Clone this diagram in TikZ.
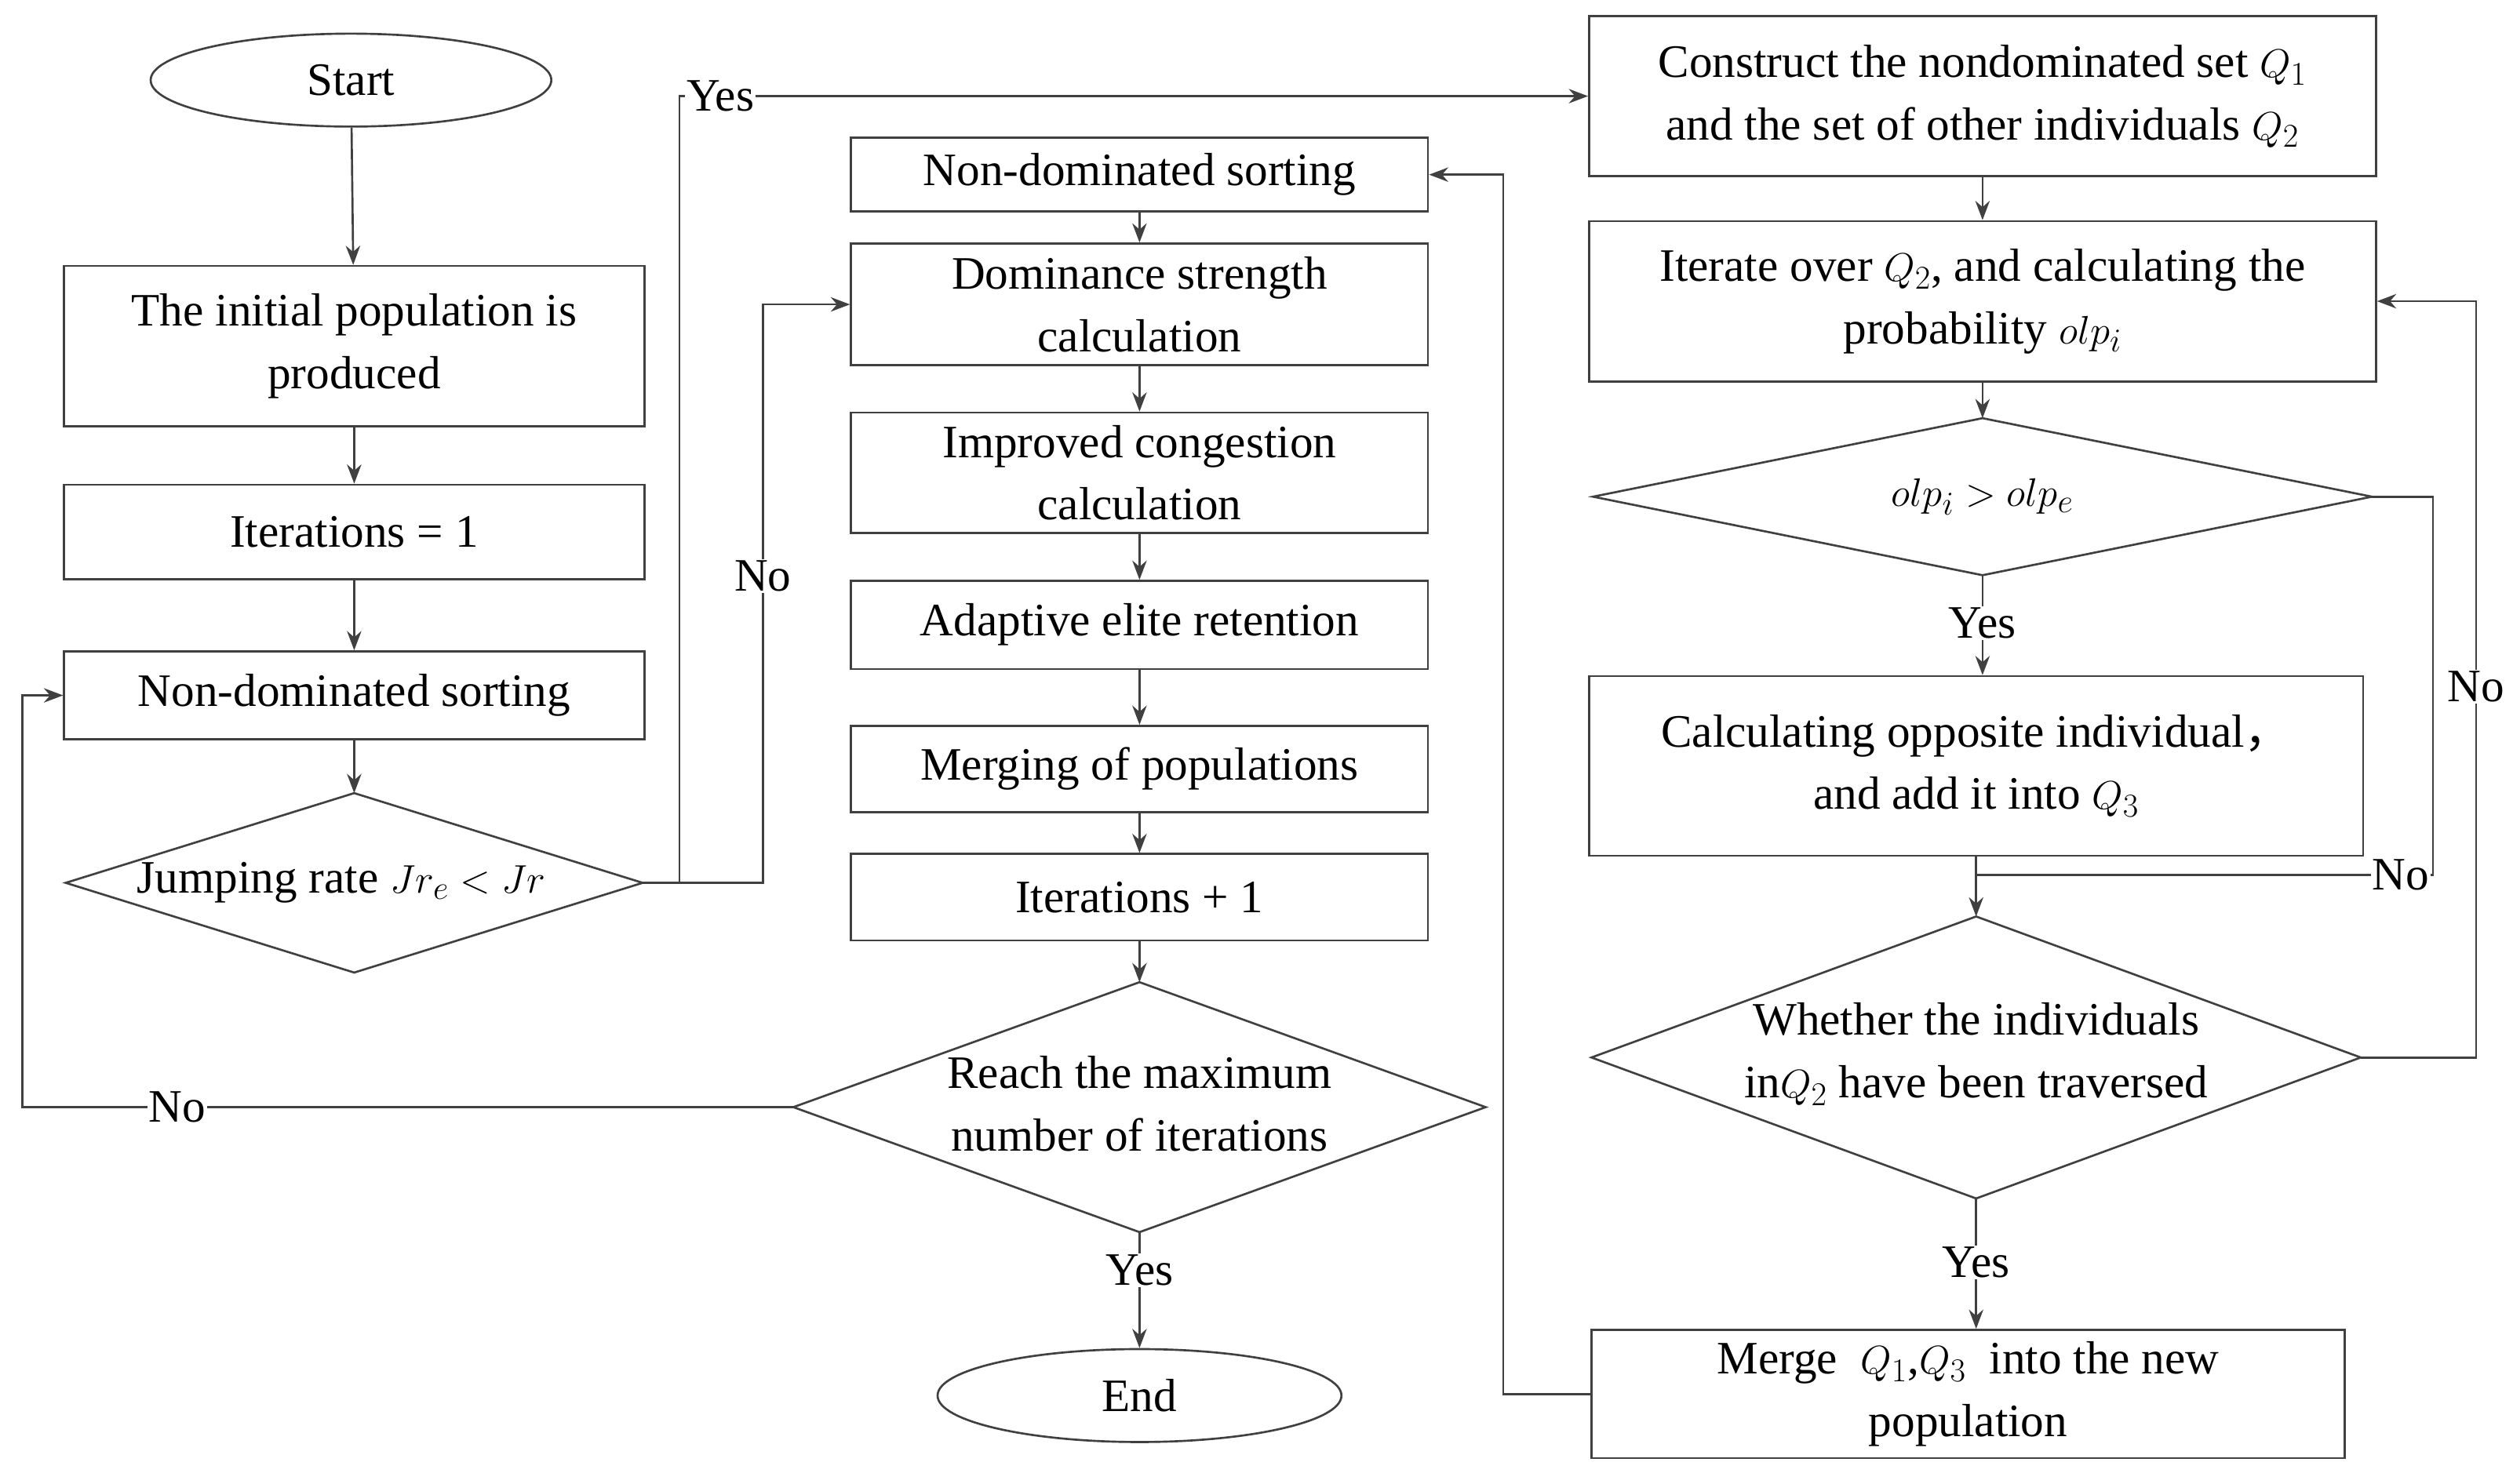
\documentclass[tikz,border=0pt]{standalone}
\usepackage{fontspec}
\setmainfont{Liberation Serif}
\newfontfamily\cjk{Noto Sans CJK SC}
\usetikzlibrary{arrows.meta,shapes.geometric}
\newcommand{\mydia}[5]{%
  \draw[ln] (#2-#4/2,#3) coordinate (#1-l) -- (#2,#3-#5/2) coordinate (#1-t) -- (#2+#4/2,#3) coordinate (#1-r) -- (#2,#3+#5/2) coordinate (#1-b) -- cycle;}
\begin{document}
\begin{tikzpicture}[x=1pt,y=-1pt,
  ln/.style={line width=1.3pt,draw=black!75},
  box/.style={ln,rectangle,inner sep=0pt,align=center,font=\fontsize{29}{39}\selectfont},
  txt/.style={align=center,font=\fontsize{29}{39}\selectfont,inner sep=1pt},
  lab/.style={fill=white,font=\fontsize{29}{32}\selectfont,inner sep=1pt},
  arr/.style={ln,-{Stealth[length=12pt,width=9pt]}}]
\path[use as bounding box] (0,0) rectangle (1568,926);
% left column
\node[box,ellipse,minimum width=250pt,minimum height=58pt] (start) at (219,50) {Start};
\node[box,minimum width=362pt,minimum height=100pt] (init) at (221,216) {The initial population is\\produced};
\node[box,minimum width=362pt,minimum height=59pt] (it1) at (221,332) {Iterations = 1};
\node[box,minimum width=362pt,minimum height=55pt] (nds1) at (221,434) {Non-dominated sorting};
\mydia{jr}{221}{551}{360}{112}
\node[txt] (jrt) at (213,551) {Jumping rate $Jr_e < Jr$};
% middle column
\node[box,minimum width=360pt,minimum height=46pt] (nds2) at (711,109) {Non-dominated sorting};
\node[box,minimum width=360pt,minimum height=76pt] (dom) at (711,190) {Dominance strength\\calculation};
\node[box,minimum width=360pt,minimum height=75pt] (imp) at (711,295) {Improved congestion\\calculation};
\node[box,minimum width=360pt,minimum height=55pt] (ada) at (711,390) {Adaptive elite retention};
\node[box,minimum width=360pt,minimum height=54pt] (mer) at (711,480) {Merging of populations};
\node[box,minimum width=360pt,minimum height=54pt] (itp) at (711,560) {Iterations + 1};
\mydia{rm}{711}{691}{432}{156}
\node[txt] (rmt) at (711,689) {Reach the maximum\\number of iterations};
\node[box,ellipse,minimum width=252pt,minimum height=58pt] (end) at (711,871) {End};
% right column
\node[box,minimum width=491pt,minimum height=100pt] (con) at (1237,60) {Construct the nondominated set $Q_1$\\and the set of other individuals $Q_2$};
\node[box,minimum width=491pt,minimum height=100pt] (ito) at (1237,188) {Iterate over $Q_2$, and calculating the\\probability $olp_i$};
\mydia{olp}{1237}{310}{486}{98}
\node[txt] (olpt) at (1237,310) {$olp_i > olp_e$};
\node[box,minimum width=483pt,minimum height=112pt] (opp) at (1233,478) {Calculating opposite individual{\cjk ，}\\and add it into $Q_3$};
\mydia{wh}{1233}{660}{480}{176}
\node[txt] (wht) at (1233,658) {Whether the individuals\\in$Q_2$ have been traversed};
\node[box,minimum width=470pt,minimum height=80pt] (mg) at (1228,870) {Merge \ $Q_1$,$Q_3$ \ into the new\\population};
% connectors left
\draw[arr] (start) -- (init);
\draw[arr] (init) -- (it1);
\draw[arr] (it1) -- (nds1);
\draw[arr] (nds1) -- (jr-t);
\coordinate (yc) at (424,60);
\draw[arr] (jr-r) -- (424,551) -- (yc) -- node[lab,pos=0.045] (yes1) {Yes} (con.west);
\draw[arr] (jr-r) -- (476,551) -- node[lab,pos=0.53] (no1) {No} (476,190) -- (dom.west);
% middle
\draw[arr] (nds2) -- (dom);
\draw[arr] (dom) -- (imp);
\draw[arr] (imp) -- (ada);
\draw[arr] (ada) -- (mer);
\draw[arr] (mer) -- (itp);
\draw[arr] (itp) -- (rm-t);
\draw[arr] (rm-b) -- node[lab,pos=0.33] (yes2) {Yes} (end);
\draw[arr] (rm-l) -- node[lab,pos=0.799] (no2) {No} (14,691) -- (14,434) -- (nds1.west);
% right
\draw[arr] (con) -- (ito);
\draw[arr] (ito.south -| olp-t) -- (olp-t);
\draw[arr] (olp-b) -- node[lab,pos=0.48] (yes3) {Yes} (olp-b |- opp.north);
\draw[ln] (olp-r) -- (1518,310) -- (1518,546) -- node[lab,pos=0.07] (no3) {No} (1233,546);
\draw[arr] (opp) -- (wh-t);
\draw[arr] (wh-r) -- (1545,660) -- node[lab,pos=0.49] (no4) {No} (1545,188) -- (ito.east);
\draw[arr] (wh-b) -- node[lab,pos=0.49] (yes4) {Yes} (wh-b |- mg.north);
\draw[arr] (mg.west) -- (938,870) -- (938,109) -- (nds2.east);
\end{tikzpicture}
\end{document}
